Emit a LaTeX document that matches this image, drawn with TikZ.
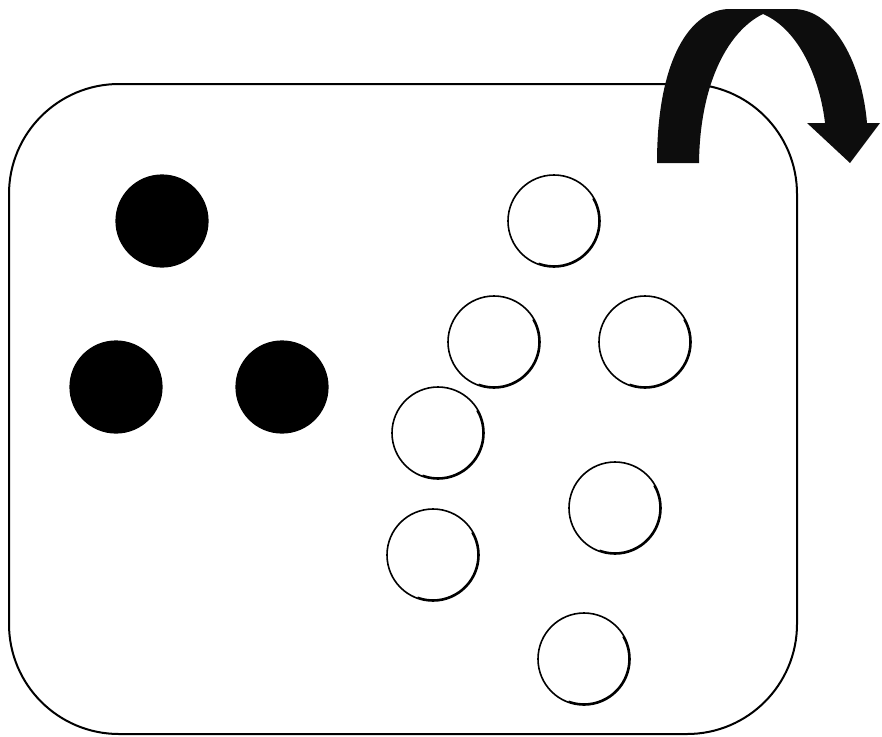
\documentclass[tikz,border=0pt]{standalone}
\begin{document}
\begin{tikzpicture}[x=1pt,y=-1pt,
  blackdot/.style={circle,fill=black,draw=black,line width=1.2pt,minimum size=92pt,inner sep=0pt},
  whitedot/.style={circle,fill=white,draw=black,line width=1.6pt,minimum size=92pt,inner sep=0pt},
  frame/.style={draw=black,line width=2pt,rounded corners=110pt}]
\useasboundingbox (0,0) rectangle (882,736);
\draw[frame] (9,84) rectangle (797,734);
% black counters
\node[blackdot] (b1) at (162,221) {};
\node[blackdot] (b2) at (116,387) {};
\node[blackdot] (b3) at (282,387) {};
% white counters
\node[whitedot] (w1) at (554,221) {};
\node[whitedot] (w2) at (494,342) {};
\node[whitedot] (w3) at (645,342) {};
\node[whitedot] (w4) at (438,433) {};
\node[whitedot] (w5) at (615,508) {};
\node[whitedot] (w6) at (433,555) {};
\node[whitedot] (w7) at (584,659) {};
\foreach \n in {w1,w2,w3,w4,w5,w6,w7}{
  \draw[black,line width=1.6pt] (\n.center) ++(-30:45) arc[start angle=-30,end angle=110,radius=45];
}
% curved arrow
\fill[black!95] (657,163) .. controls (657,60) and (690,9) .. (730,9) -- (793,9)
  .. controls (835,9) and (862,65) .. (867,123) -- (880,123) -- (850,163) -- (807,123) -- (825,123)
  .. controls (820,80) and (800,30) .. (763,14)
  .. controls (730,30) and (700,80) .. (699,163) -- cycle;
\end{tikzpicture}
\end{document}
